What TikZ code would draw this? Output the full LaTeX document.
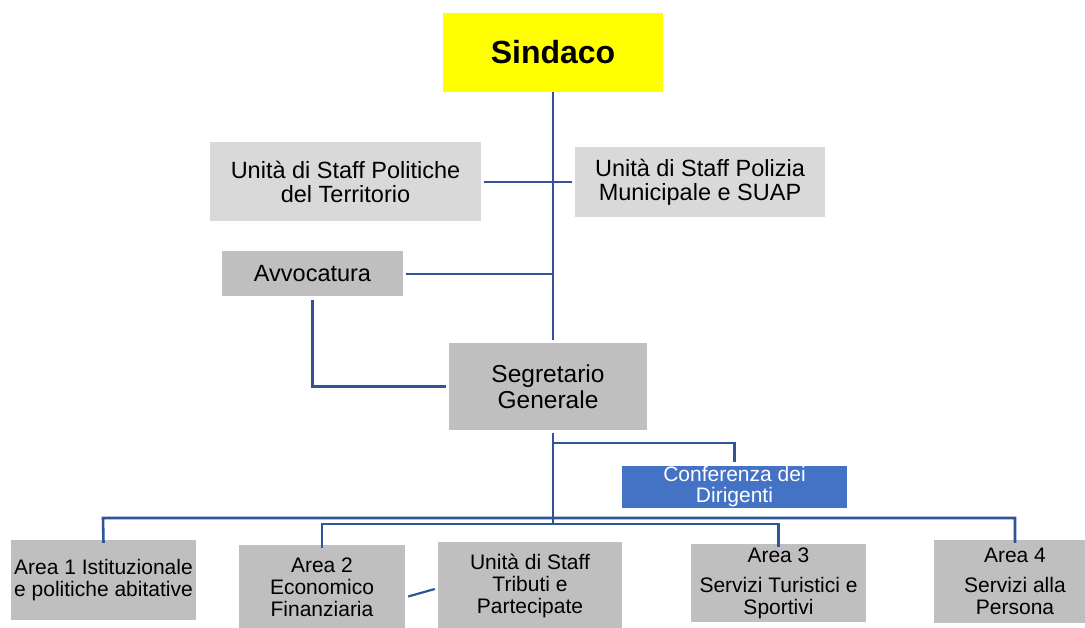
\documentclass[tikz,border=0pt]{standalone}
\usepackage{fontspec}
\setmainfont{Liberation Sans}
\definecolor{linkblue}{RGB}{47,85,151}
\definecolor{lightgray}{RGB}{217,217,217}
\definecolor{midgray}{RGB}{191,191,191}
\definecolor{confblue}{RGB}{68,114,196}
\definecolor{sindyellow}{RGB}{255,255,0}
\begin{document}
\begin{tikzpicture}[x=1pt,y=-1pt,
  box/.style={draw=none,inner sep=0pt,align=center,text=black},
  upper/.style={font=\fontsize{23.5}{24}\selectfont},
  lower/.style={font=\fontsize{21}{22}\selectfont},
  link/.style={draw=linkblue,line width=2.6pt}]
\useasboundingbox (0,0) rectangle (1085,628);
\fill[white] (0,0) rectangle (1085,628);

\node[box,fill=sindyellow,minimum width=220pt,minimum height=79pt,
  font=\fontsize{32}{34}\selectfont\bfseries] (sindaco) at (553,52.5) {Sindaco};
\node[box,upper,fill=lightgray,minimum width=271pt,minimum height=79pt] (pol) at (345.5,182)
  {Unità di Staff Politiche\\del Territorio};
\node[box,upper,fill=lightgray,minimum width=250pt,minimum height=70pt] (poliz) at (700,182)
  {Unità di Staff Polizia\\Municipale e SUAP};
\node[box,upper,fill=midgray,minimum width=181pt,minimum height=45pt] (avv) at (312.5,274)
  {Avvocatura};
\node[box,fill=midgray,minimum width=198pt,minimum height=87pt,
  font=\fontsize{24.5}{26}\selectfont] (seg) at (548,386.5) {Segretario\\Generale};
\node[box,fill=confblue,text=white,minimum width=225pt,minimum height=42pt,
  font=\fontsize{21}{21}\selectfont] (conf) at (734.5,487) {Conferenza dei\\Dirigenti};
\node[box,lower,fill=midgray,minimum width=185pt,minimum height=80pt] (a1) at (103.5,580)
  {Area 1 Istituzionale\\e politiche abitative};
\node[box,lower,fill=midgray,minimum width=166pt,minimum height=85pt] (a2) at (322,587.5)
  {Area 2\\Economico\\Finanziaria};
\node[box,lower,fill=midgray,minimum width=184pt,minimum height=88pt] (trib) at (530,586)
  {Unità di Staff\\Tributi e\\Partecipate};
\node[box,lower,fill=midgray,minimum width=175pt,minimum height=78pt] (a3) at (778.5,583)
  {Area 3\\[8pt]Servizi Turistici e\\Sportivi};
\node[box,lower,fill=midgray,minimum width=162pt,minimum height=83pt] (a4) at (1015,581.5)
  {Area 4\\[8pt]Servizi alla\\Persona};

% upper trunk
\coordinate (trunkTop) at (sindaco.south);
\coordinate (trunkEnd) at (sindaco.south |- seg.north);
\draw[link] (trunkTop) -- ([yshift=3pt]trunkEnd);
\draw[link] ([xshift=3pt]pol.east) -- ([xshift=-3pt]poliz.west);
\coordinate (avvJoin) at (avv.east -| trunkTop);
\draw[link] ([xshift=3pt]avv.east) -- (avvJoin);
\coordinate (avvCorner) at (avv.south |- seg.west);
\draw[link] ([yshift=-3pt]avv.south) -- (avvCorner) -- ([xshift=-3pt]seg.west);

% lower trunk
\coordinate (lowTop) at (trunkTop |- seg.south);
\coordinate (lowEnd) at (553,524);
\draw[link] ([yshift=-3pt]lowTop) -- (lowEnd);
\coordinate (confJoin) at (553,443);
\draw[link] (confJoin) -- (confJoin -| conf.north) -- ([yshift=4pt]conf.north);
\coordinate (bus1) at (103,518);
\coordinate (bus1r) at (1015,518);
\draw[link] ([yshift=-3pt]a1.north) -- (bus1) -- (bus1r) -- ([yshift=-3pt]a4.north);
\coordinate (bus2) at (322,524);
\coordinate (bus2r) at (778.5,524);
\draw[link] ([yshift=-3pt]a2.north) -- (bus2) -- (bus2r) -- ([yshift=-3pt]a3.north);
\draw[link,line width=2.2pt] ([xshift=3pt,yshift=-9pt]a2.east) -- ([xshift=-3pt,yshift=-3pt]trib.west);
\end{tikzpicture}
\end{document}
